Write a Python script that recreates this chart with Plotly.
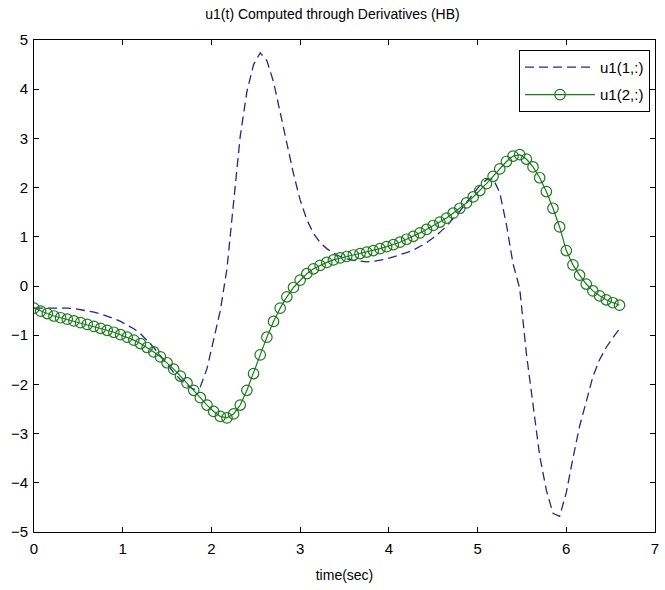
import plotly.graph_objects as go

# time grid (seconds)
time_sec = [
    0.000, 0.075, 0.150, 0.225, 0.300, 0.375, 0.450, 0.525, 0.600, 0.675,
    0.750, 0.825, 0.900, 0.975, 1.050, 1.125, 1.200, 1.275, 1.350, 1.425,
    1.500, 1.575, 1.650, 1.725, 1.800, 1.875, 1.950, 2.025, 2.100, 2.175,
    2.250, 2.325, 2.400, 2.475, 2.550, 2.625, 2.700, 2.775, 2.850, 2.925,
    3.000, 3.075, 3.150, 3.225, 3.300, 3.375, 3.450, 3.525, 3.600, 3.675,
    3.750, 3.825, 3.900, 3.975, 4.050, 4.125, 4.200, 4.275, 4.350, 4.425,
    4.500, 4.575, 4.650, 4.725, 4.800, 4.875, 4.950, 5.025, 5.100, 5.175,
    5.250, 5.325, 5.400, 5.475, 5.550, 5.625, 5.700, 5.775, 5.850, 5.925,
    6.000, 6.075, 6.150, 6.225, 6.300, 6.375, 6.450, 6.525, 6.600,
]

# first row of u1
u1_row1 = [
    -0.45, -0.45, -0.44, -0.44, -0.44, -0.45, -0.46, -0.48, -0.50, -0.53,
    -0.57, -0.61, -0.66, -0.72, -0.79, -0.87, -0.97, -1.10, -1.25, -1.42,
    -1.60, -1.76, -1.90, -2.02, -2.10, -2.05, -1.68, -1.12, -0.50, 0.35,
    1.75, 3.05, 3.95, 4.50, 4.74, 4.58, 4.15, 3.55, 2.90, 2.28,
    1.75, 1.35, 1.07, 0.88, 0.76, 0.67, 0.60, 0.55, 0.52, 0.50,
    0.49, 0.50, 0.52, 0.55, 0.59, 0.63, 0.68, 0.73, 0.80, 0.88,
    0.98, 1.09, 1.22, 1.36, 1.52, 1.70, 1.88, 2.04, 2.16, 2.18,
    1.90, 1.25, 0.45, -0.05, -1.37, -2.45, -3.45, -4.15, -4.62, -4.68,
    -4.20, -3.50, -2.85, -2.35, -1.84, -1.50, -1.25, -1.05, -0.87,
]

# second row of u1
u1_row2 = [
    -0.45, -0.51, -0.56, -0.61, -0.645, -0.675, -0.71, -0.745, -0.78, -0.82,
    -0.86, -0.90, -0.94, -0.99, -1.04, -1.10, -1.17, -1.25, -1.34, -1.44,
    -1.56, -1.69, -1.83, -1.97, -2.12, -2.27, -2.42, -2.55, -2.65, -2.68,
    -2.60, -2.42, -2.12, -1.78, -1.40, -1.04, -0.72, -0.45, -0.22, -0.03,
    0.12, 0.25, 0.35, 0.42, 0.48, 0.53, 0.57, 0.60, 0.63, 0.66,
    0.69, 0.72, 0.76, 0.80, 0.84, 0.89, 0.95, 1.01, 1.08, 1.15,
    1.23, 1.30, 1.38, 1.48, 1.58, 1.69, 1.81, 1.94, 2.08, 2.23,
    2.38, 2.53, 2.64, 2.67, 2.58, 2.42, 2.20, 1.92, 1.58, 1.20,
    0.72, 0.43, 0.22, 0.04, -0.10, -0.20, -0.28, -0.34, -0.39,
]

x_ticks = [0, 1, 2, 3, 4, 5, 6, 7]
y_ticks = [-5, -4, -3, -2, -1, 0, 1, 2, 3, 4, 5]

FONT = "Liberation Sans"

fig = go.Figure()
fig.add_trace(go.Scatter(
    x=time_sec, y=u1_row1, mode="lines", name="u1(1,:)",
    legendgroup="row1",
    line=dict(color="#26268a", width=1.3, dash="9px,5px"),
))
fig.add_trace(go.Scatter(
    x=time_sec, y=u1_row2, mode="lines+markers", name="u1(2,:)",
    legendgroup="row2",
    line=dict(color="#1b7a1b", width=1.2),
    marker=dict(symbol="circle-open", size=10.5, color="#1b7a1b",
                line=dict(width=1.2, color="#1b7a1b")),
))

axis_common = dict(
    showline=True, linecolor="black", linewidth=1, mirror="ticks",
    ticks="inside", ticklen=5, tickwidth=1, tickcolor="black",
    showgrid=False, zeroline=False,
    tickfont=dict(family=FONT, size=15, color="black"),
)

fig.update_layout(
    width=665, height=590,
    margin=dict(l=34, r=6, t=40, b=58),
    paper_bgcolor="white", plot_bgcolor="white",
    title=dict(text="u1(t) Computed through Derivatives (HB)",
               x=0.5, xanchor="center", y=0.976, yanchor="middle",
               font=dict(family=FONT, size=14, color="black")),
    xaxis=dict(range=[0, 7], tickvals=x_ticks, ticklabelstandoff=3,
               title=dict(text="time(sec)", standoff=14,
                          font=dict(family=FONT, size=14, color="black")),
               **axis_common),
    yaxis=dict(range=[-5, 5], tickvals=y_ticks, ticklabelstandoff=2,
               **axis_common),
    legend=dict(x=0.992, y=0.98, xanchor="right", yanchor="top",
                bgcolor="white", bordercolor="black", borderwidth=1,
                font=dict(family=FONT, size=15, color="black"),
                itemwidth=70, traceorder="grouped", tracegroupgap=5),
    showlegend=True,
)

fig.write_html("out.html")
